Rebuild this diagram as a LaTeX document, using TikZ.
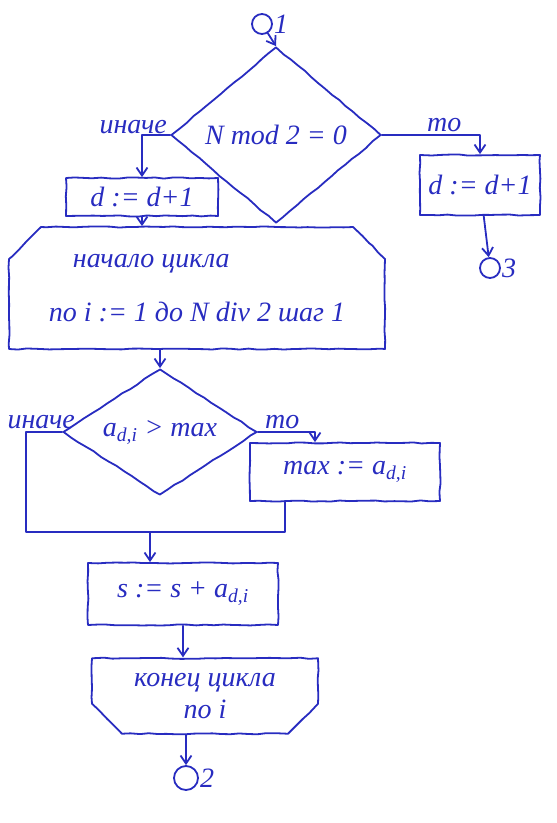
\documentclass[tikz,border=0pt]{standalone}
\usepackage{fontspec}
\setmainfont{Liberation Serif}
\usetikzlibrary{arrows.meta,positioning,shapes.geometric,shapes.misc,decorations.pathmorphing}
\definecolor{ink}{RGB}{40,44,192}
\newcommand{\handfont}{\fontsize{28}{32}\selectfont\itshape}
\tikzset{
  inkline/.style={draw=ink, line width=1.8pt, line cap=round, line join=round},
  rough/.style={decorate, decoration={random steps, segment length=9pt, amplitude=0.6pt}},
  actbox/.style={inkline, rough, rectangle, inner sep=0pt, text=ink, font=\handfont, align=center},
  condbox/.style={inkline, rough, diamond, inner sep=0pt, text=ink, font=\handfont},
  loopstart/.style={inkline, rough, chamfered rectangle, chamfered rectangle corners={north west,north east},
    chamfered rectangle xsep=16pt, chamfered rectangle ysep=16pt, inner sep=0pt, text=ink, font=\handfont, align=left},
  loopend/.style={inkline, rough, chamfered rectangle, chamfered rectangle corners={south west,south east},
    chamfered rectangle xsep=15pt, chamfered rectangle ysep=15pt, inner sep=0pt, text=ink, font=\handfont, align=center},
  connbox/.style={inkline, circle, minimum size=20pt, inner sep=0pt},
  lbl/.style={text=ink, font=\handfont, inner sep=1pt},
  flowarrow/.style={inkline, -{Straight Barb[length=8pt,width=11pt]}}
}

\begin{document}
\begin{tikzpicture}[x=1pt, y=-1pt]
    \useasboundingbox (0,0) rectangle (557,823);
    % first branch
    \node[connbox, label={[lbl]right:1}] (c1) at (262,24) {};
    \node[condbox, minimum width=210pt, minimum height=176pt, shape aspect=1.2] (d1) at (276,135) {N mod 2 = 0};
    \node[lbl, above left=0pt and 2pt of d1.west] (no1) {иначе};
    \node[lbl, above right=2pt and 44pt of d1.east] (yes1) {то};
    \node[actbox, minimum width=152pt, minimum height=38pt] (inc1) at (142,197) {d := d+1};
    \node[actbox, minimum width=120pt, minimum height=60pt] (inc2) at (480,185) {d := d+1};
    \node[connbox, label={[lbl]right:3}] (c3) at (490,268) {};
    % loop over i
    \node[loopstart, minimum width=376pt, minimum height=122pt] (lp) at (197,288)
      {\hspace{24pt}начало цикла\\[22pt]по i := 1 до N div 2 шаг 1};
    \node[condbox, minimum width=194pt, minimum height=126pt, shape aspect=1.54] (d2) at (160,432)
      {a\textsubscript{d,i} > max};
    \node[lbl, above left=2pt and -14pt of d2.west] (no2) {иначе};
    \node[lbl, above right=2pt and 6pt of d2.east] (yes2) {то};
    \node[actbox, minimum width=190pt, minimum height=58pt] (mx) at (345,472) {max := a\textsubscript{d,i}};
    \coordinate (jn) at (150,532);
    \node[actbox, minimum width=190pt, minimum height=62pt] (sb) at (183,594) {s := s + a\textsubscript{d,i}};
    \node[loopend, minimum width=226pt, minimum height=68pt] (le) at (205,696) {конец цикла\\по i};
    \node[connbox, minimum size=24pt, label={[lbl]right:2}] (c2) at (186,778) {};
    % connectors
    \draw[flowarrow] (c1) -- (d1.north);
    \draw[flowarrow] (d1.west) -| (inc1.north);
    \draw[flowarrow] (d1.east) -| (inc2.north);
    \draw[flowarrow] (inc2) -- (c3);
    \draw[flowarrow] (inc1.south) -- (inc1.south |- lp.north);
    \draw[flowarrow] (d2.north |- lp.south) -- (d2.north);
    \draw[inkline] (d2.west) -- ++(-36,0) |- (jn);
    \draw[flowarrow] (d2.east) -| ([xshift=-30pt]mx.north);
    \draw[inkline] ([xshift=-60pt]mx.south) |- (jn);
    \draw[flowarrow] (jn) -- (jn |- sb.north);
    \draw[flowarrow] (sb.south) -- (sb.south |- le.north);
    \draw[flowarrow] (c2 |- le.south) -- (c2);
  \end{tikzpicture}
\end{document}
